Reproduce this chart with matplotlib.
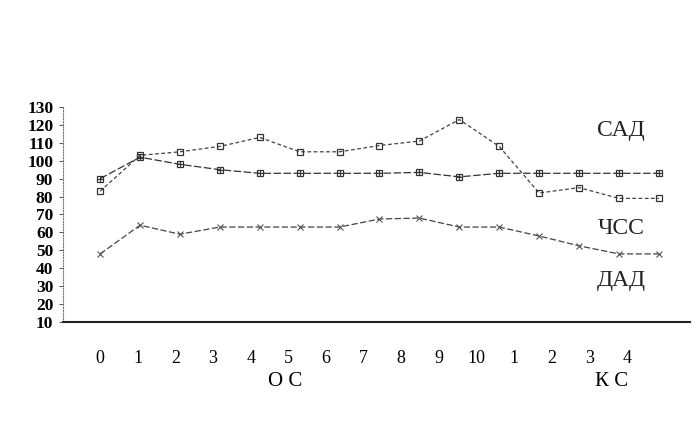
import numpy as np
import matplotlib as mpl
mpl.use('Agg')
from matplotlib import pyplot as plt

mpl.rc('font', family=['Liberation Serif', 'DejaVu Serif'])

# Stages: ОС 0..10, then КС 1..4
xLabels = ['0', '1', '2', '3', '4', '5', '6', '7', '8', '9', '10', '1', '2', '3', '4']
sad = [83, 103, 105, 108, 113, 105, 105, 108.5, 111, 123, 108, 82, 85, 79, 79]
chss = [90, 102, 98, 95, 93, 93, 93, 93, 93.5, 91, 93, 93, 93, 93, 93]
dad = [48, 64, 59, 63, 63, 63, 63, 67.5, 68, 63, 63, 58, 52.5, 48, 48]
seriesNames = ['САД', 'ЧСС', 'ДАД']
namePos = [117, 62, 33]


if __name__ == '__main__':
    fig = plt.figure(figsize=(7, 4.32), dpi=100)
    axes = fig.add_axes([63 / 700, 1 - 322 / 432, 627 / 700, 215 / 432])

    x = np.arange(len(sad))

    axes.plot(x, sad, color='#444444', lw=0.9, ls=(0, (3, 2)),
              marker='s', ms=5, mfc='none', mec='#333333', mew=0.9)
    axes.plot(x, chss, color='#333333', lw=0.9, ls=(0, (6, 2)),
              marker='s', ms=5, mfc='none', mec='#333333', mew=0.9)
    axes.plot(x, chss, ls='none', marker='+', ms=5, mec='#333333', mew=0.8)
    axes.plot(x, dad, color='#444444', lw=0.9, ls=(0, (5, 2)),
              marker='x', ms=4, mec='#555555', mew=0.8)

    for name, yPos in zip(seriesNames, namePos):
        axes.text(13.05, yPos, name, ha='center', va='center', fontsize=17,
                  color='#222222')

    axes.set_xlim(-0.93, 14.78)
    axes.set_ylim(10, 130)
    axes.set_yticks(np.arange(10, 131, 10))
    axes.tick_params(axis='y', direction='out', length=3, width=0.7,
                     labelsize=12.5, pad=4, color='#555555')
    for lbl in axes.get_yticklabels():
        lbl.set_fontweight('bold')
    axes.set_xticks(np.arange(len(xLabels)) * 0.943)
    axes.set_xticklabels(xLabels)
    axes.tick_params(axis='x', length=0, labelsize=13, pad=20)

    for side in ['top', 'right']:
        axes.spines[side].set_visible(False)
    axes.spines['left'].set_linestyle((0, (1, 1.5)))
    axes.spines['left'].set_color('#777777')
    axes.spines['left'].set_linewidth(0.8)
    axes.spines['bottom'].set_color('#222222')
    axes.spines['bottom'].set_linewidth(1.5)

    fig.text(285 / 700, 1 - 382 / 432, 'О С', ha='center', va='center', fontsize=15)
    fig.text(612 / 700, 1 - 382 / 432, 'К С', ha='center', va='center', fontsize=15)

    fig.savefig('out.png', dpi=100)
